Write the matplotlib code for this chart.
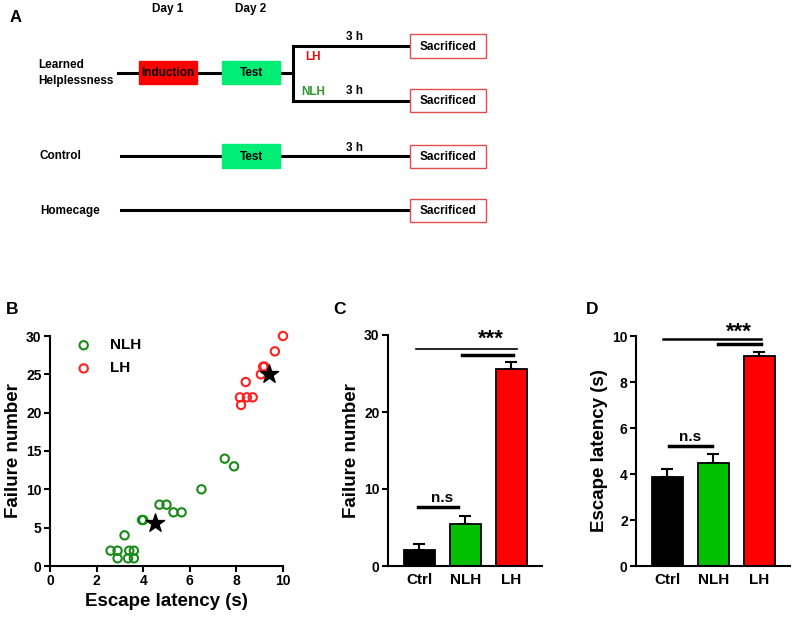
import matplotlib
matplotlib.use('Agg')
import matplotlib.pyplot as plt
from matplotlib.patches import Rectangle

plt.rcParams['font.family'] = ['Liberation Sans', 'DejaVu Sans']
plt.rcParams['font.weight'] = 'bold'

# panel B data
nlh_x = [2.6, 2.9, 2.9, 3.2, 3.35, 3.4, 3.6, 3.6, 3.95, 4.0, 4.7, 5.0, 5.3, 5.65, 6.5, 7.5, 7.9]
nlh_y = [2, 2, 1, 4, 1, 2, 2, 1, 6, 6, 8, 8, 7, 7, 10, 14, 13]
lh_x = [8.2, 8.15, 8.45, 8.7, 8.4, 9.05, 9.15, 9.2, 9.65, 10.0]
lh_y = [21, 22, 22, 22, 24, 25, 26, 26, 28, 30]
mean_x = [4.52, 9.4]
mean_y = [5.6, 25.1]

# panels C and D data
groups = ['Ctrl', 'NLH', 'LH']
bar_colors = ['#000000', '#00c000', '#ff0000']
fail_mean = [2.1, 5.5, 25.6]
fail_sem = [0.75, 0.95, 0.9]
lat_mean = [3.85, 4.5, 9.12]
lat_sem = [0.36, 0.37, 0.18]

W, H = 794, 621
fig = plt.figure(figsize=(W / 100, H / 100), dpi=100)

# ---- panel A : timeline diagram drawn in pixel coords
axA = fig.add_axes([0, 0, 1, 1])
axA.set_xlim(0, W)
axA.set_ylim(H, 0)
axA.axis('off')
fs_a = 8.5
green_box = '#00ee76'
sac_edge = '#e64c4c'

def box(x0, x1, y0, y1, fc, ec, label, color='black'):
    axA.add_patch(Rectangle((x0, y0), x1 - x0, y1 - y0, facecolor=fc, edgecolor=ec, lw=1.0, zorder=3))
    axA.text((x0 + x1) / 2, (y0 + y1) / 2 + 1, label, ha='center', va='center',
             color=color, zorder=4, fontsize=fs_a)

lw_line = 2.2
axA.text(10, 17, 'A', fontsize=12, ha='left', va='center')
axA.text(168, 9, 'Day 1', ha='center', va='center', fontsize=fs_a)
axA.text(251, 9, 'Day 2', ha='center', va='center', fontsize=fs_a)

# learned helplessness row
axA.text(38, 73, 'Learned\nHelplessness', ha='left', va='center', linespacing=1.35, fontsize=fs_a)
axA.plot([118, 293], [73, 73], color='black', lw=lw_line, zorder=2)
axA.plot([293, 293], [46, 101], color='black', lw=lw_line, zorder=2)
axA.plot([293, 410], [46, 46], color='black', lw=lw_line, zorder=2)
axA.plot([293, 410], [101, 101], color='black', lw=lw_line, zorder=2)
box(139, 197, 61, 84, '#ff0000', '#ff0000', 'Induction')
box(222, 280, 61, 84, green_box, green_box, 'Test')
axA.text(313, 57, 'LH', color='#e01010', ha='center', va='center', fontsize=fs_a)
axA.text(313, 92, 'NLH', color='#2e9a2e', ha='center', va='center', fontsize=fs_a)
axA.text(355, 37, '3 h', ha='center', va='center', fontsize=fs_a)
axA.text(355, 91, '3 h', ha='center', va='center', fontsize=fs_a)
box(410, 486, 34, 58, 'white', sac_edge, 'Sacrificed')
box(410, 486, 89, 112, 'white', sac_edge, 'Sacrificed')

# control row
axA.text(40, 156, 'Control', ha='left', va='center', fontsize=fs_a)
axA.plot([121, 410], [156, 156], color='black', lw=lw_line, zorder=2)
box(222, 280, 144, 168, green_box, green_box, 'Test')
axA.text(355, 148, '3 h', ha='center', va='center', fontsize=fs_a)
box(410, 486, 145, 168, 'white', sac_edge, 'Sacrificed')

# homecage row
axA.text(40, 211, 'Homecage', ha='left', va='center', fontsize=fs_a)
axA.plot([121, 410], [210, 210], color='black', lw=lw_line, zorder=2)
box(410, 486, 199, 222, 'white', sac_edge, 'Sacrificed')

# panel letters
axA.text(12, 309, 'B', fontsize=12.5, ha='center', va='center')
axA.text(340, 309, 'C', fontsize=12.5, ha='center', va='center')
axA.text(592, 309, 'D', fontsize=12.5, ha='center', va='center')


def style_axis(ax):
    for s in ['top', 'right']:
        ax.spines[s].set_visible(False)
    for s in ['left', 'bottom']:
        ax.spines[s].set_linewidth(1.5)
    ax.tick_params(width=1.5, length=4, labelsize=10, pad=2)
    for lab in ax.get_xticklabels() + ax.get_yticklabels():
        lab.set_fontweight('bold')


# ---- panel B : scatter
axB = fig.add_axes([50 / W, 55 / H, 233 / W, 230 / H])
axB.scatter(nlh_x, nlh_y, s=36, facecolors='none', edgecolors='#1a8a1a', linewidths=1.5,
            label='NLH', clip_on=False, zorder=3)
axB.scatter(lh_x, lh_y, s=36, facecolors='none', edgecolors='#ff2020', linewidths=1.5,
            label='LH', clip_on=False, zorder=3)
axB.scatter(mean_x, mean_y, s=190, marker='*', color='black', zorder=4, clip_on=False)
axB.set_xlim(0, 10)
axB.set_ylim(0, 30)
axB.set_xticks([0, 2, 4, 6, 8, 10])
axB.set_yticks([0, 5, 10, 15, 20, 25, 30])
axB.set_xlabel('Escape latency (s)', fontsize=13.5, fontweight='bold', labelpad=3)
axB.set_ylabel('Failure number', fontsize=13.5, fontweight='bold', labelpad=3)
axB.legend(loc='upper left', frameon=False, fontsize=11, handletextpad=0.7,
           bbox_to_anchor=(0.02, 1.05), labelspacing=0.6)
style_axis(axB)


def bar_panel(rect, means, sems, ylim, yticks, ylabel, lines, ns_y, star_y):
    ax = fig.add_axes(rect)
    x = range(len(groups))
    ax.bar(x, means, width=0.68, color=bar_colors, edgecolor='black', linewidth=1.3, zorder=2)
    ax.errorbar(x, means, yerr=[[0] * len(means), sems], fmt='none', ecolor='black',
                elinewidth=1.5, capsize=4, capthick=1.5, zorder=1)
    ax.set_xlim(-0.68, 2.67)
    ax.set_ylim(*ylim)
    ax.set_yticks(yticks)
    ax.set_xticks(list(x))
    ax.set_xticklabels(groups)
    ax.set_ylabel(ylabel, fontsize=13.5, fontweight='bold', labelpad=3)
    style_axis(ax)
    ax.tick_params(axis='x', length=0, labelsize=11, pad=5)
    for (x0, x1, y, lw) in lines:
        ax.plot([x0, x1], [y, y], color='black', lw=lw, clip_on=False)
    ax.text(0.5, ns_y, 'n.s', ha='center', va='bottom', fontsize=11)
    ax.text(1.55, star_y, '***', ha='center', va='center', fontsize=16)
    return ax


# ---- panel C
bar_panel([388 / W, 55 / H, 154 / W, 231 / H], fail_mean, fail_sem, (0, 30), [0, 10, 20, 30],
          'Failure number',
          [(-0.08, 2.12, 28.15, 1.2), (0.92, 2.05, 27.4, 2.5), (-0.02, 0.85, 7.6, 2.5)],
          7.9, 29.4)

# ---- panel D
bar_panel([636 / W, 55 / H, 154 / W, 230 / H], lat_mean, lat_sem, (0, 10), [0, 2, 4, 6, 8, 10],
          'Escape latency (s)',
          [(-0.1, 2.05, 9.87, 1.8), (1.1, 2.05, 9.67, 2.5), (0.03, 0.97, 5.22, 2.5)],
          5.3, 10.15)

fig.savefig('out.png', dpi=100)
